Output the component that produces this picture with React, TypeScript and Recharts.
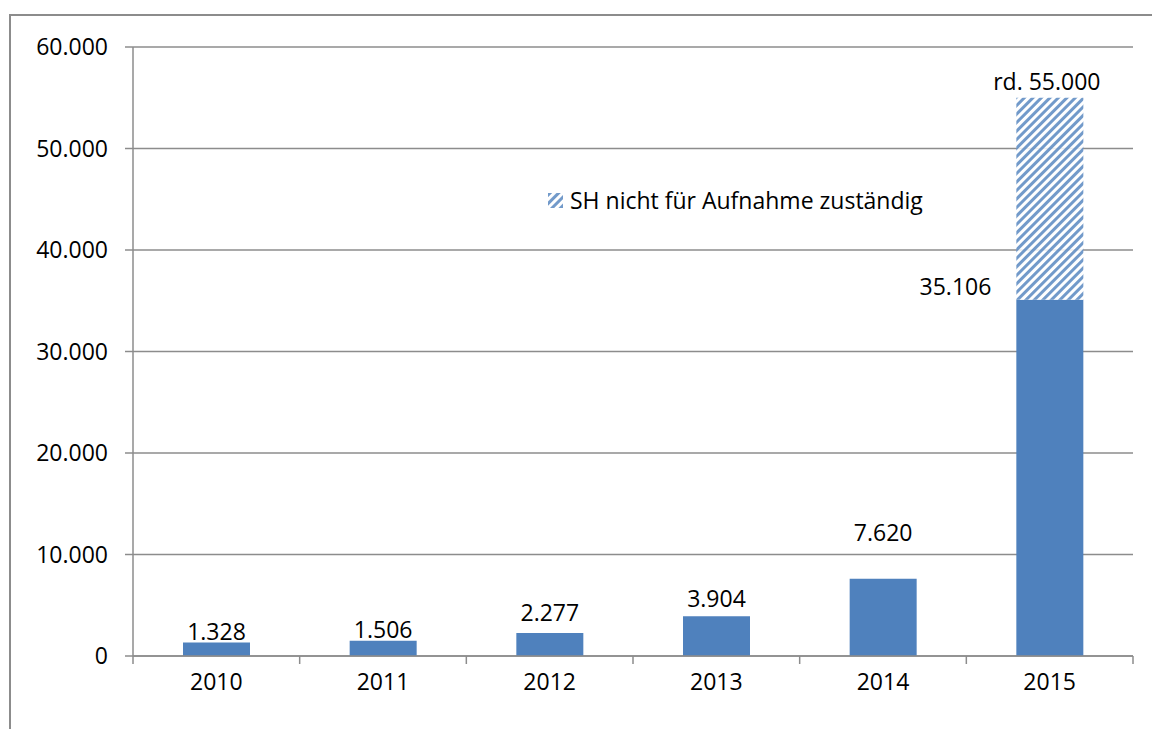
import { BarChart, Bar, XAxis, YAxis, CartesianGrid, LabelList } from "recharts";

const years = ["2010", "2011", "2012", "2013", "2014", "2015"];
const zustaendig = [1328, 1506, 2277, 3904, 7620, 35106];
const nichtZustaendig = [0, 0, 0, 0, 0, 19894];
const extraLabels = ["", "", "", "", "", "rd. 55.000"];
const yTicks = [0, 10000, 20000, 30000, 40000, 50000, 60000];
const legendText = "SH nicht für Aufnahme zuständig";

const data = years.map((year, i) => ({
  year,
  base: zustaendig[i],
  extra: nichtZustaendig[i] || null,
  extraLabel: extraLabels[i],
}));

const W = 1152;
const H = 729;
const M = { top: 47, right: 19, left: 0, bottom: 33 };
const Y_AXIS_W = 133;
const BAND = (W - M.right - Y_AXIS_W) / years.length;

const BLUE = "#4f81bd";
const GREY = "#8c8c8c";
const FONT = "'Open Sans', sans-serif";
const FS = 23;

// manual label lift above each bar (Excel labels were moved by hand)
const labelLift: Record<string, number> = { "2010": 12, "2011": 12, "2012": 21, "2013": 18, "2014": 47 };

const fmt = (v: number) => String(Math.round(v)).replace(/\B(?=(\d{3})+(?!\d))/g, ".");

function YearTick(props: any) {
  const { x, y, payload, index } = props;
  const last = index === years.length - 1;
  return (
    <g>
      <line x1={x - BAND / 2} x2={x - BAND / 2} y1={y - 8} y2={y} stroke={GREY} strokeWidth={1.5} />
      {last && <line x1={x + BAND / 2} x2={x + BAND / 2} y1={y - 8} y2={y} stroke={GREY} strokeWidth={1.5} />}
      <text x={x} y={y + 26} textAnchor="middle" fontSize={FS} fontFamily={FONT} fill="#000">
        {payload.value}
      </text>
    </g>
  );
}

function BaseLabel(props: any) {
  const { x, y, width, value, index } = props;
  const year = years[index];
  if (year === "2015") {
    return (
      <text x={x - 25} y={y - 14} textAnchor="end" dominantBaseline="central" fontSize={FS} fontFamily={FONT} fill="#000">
        {fmt(value)}
      </text>
    );
  }
  return (
    <text x={x + width / 2} y={y - labelLift[year]} textAnchor="middle" dominantBaseline="central" fontSize={FS} fontFamily={FONT} fill="#000">
      {fmt(value)}
    </text>
  );
}

function ExtraLabel(props: any) {
  const { x, y, width, value } = props;
  if (!value) return null;
  return (
    <text x={x + width / 2 - 3} y={y - 17} textAnchor="middle" dominantBaseline="central" fontSize={FS} fontFamily={FONT} fill="#000">
      {value}
    </text>
  );
}

export default function App() {
  return (
    <div style={{ position: "fixed", left: 0, top: 0, width: W, height: H, background: "#fff", overflow: "hidden" }}>
      <div
        style={{
          position: "absolute",
          left: 9,
          top: 14,
          width: W,
          height: H,
          border: `2px solid ${GREY}`,
          boxSizing: "border-box",
        }}
      />
      <div style={{ position: "absolute", left: 0, top: 0 }}>
        <BarChart width={W} height={H} data={data} margin={M} barCategoryGap="30%">
          <defs>
            <pattern id="hatch" patternUnits="userSpaceOnUse" width={6} height={6} patternTransform="rotate(45)">
              <rect width={6} height={6} fill="rgba(255,255,255,0.85)" />
              <rect width={3} height={6} fill={BLUE} fillOpacity={0.8} />
            </pattern>
          </defs>
          <CartesianGrid vertical={false} stroke={GREY} strokeWidth={1.5} />
          <XAxis
            dataKey="year"
            height={40}
            axisLine={{ stroke: GREY, strokeWidth: 1.5 }}
            tickLine={false}
            tick={<YearTick />}
            interval={0}
          />
          <YAxis
            width={Y_AXIS_W}
            domain={[0, 60000]}
            ticks={yTicks}
            interval={0}
            tickFormatter={fmt}
            axisLine={{ stroke: GREY, strokeWidth: 1.5 }}
            tickLine={{ stroke: GREY, strokeWidth: 1.5 }}
            tickSize={8}
            tickMargin={17}
            tick={{ fontSize: FS, fontFamily: FONT, fill: "#000" }}
          />
          <Bar dataKey="base" stackId="a" fill={BLUE} isAnimationActive={false}>
            <LabelList dataKey="base" content={<BaseLabel />} />
          </Bar>
          <Bar dataKey="extra" stackId="a" fill="url(#hatch)" isAnimationActive={false}>
            <LabelList dataKey="extraLabel" content={<ExtraLabel />} />
          </Bar>
        </BarChart>
      </div>
      <div
        style={{
          position: "absolute",
          left: 548,
          top: 184,
          display: "flex",
          alignItems: "center",
          fontFamily: FONT,
          fontSize: FS,
          color: "#000",
          whiteSpace: "nowrap",
        }}
      >
        <svg width={15} height={15} style={{ marginRight: 7 }}>
          <rect width={15} height={15} fill="url(#hatch)" />
        </svg>
        {legendText}
      </div>
    </div>
  );
}
